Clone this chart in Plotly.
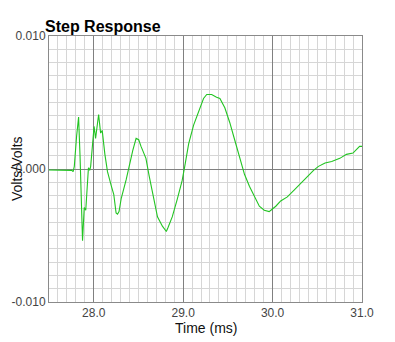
import plotly.graph_objects as go

# Step response trace: time in ms, amplitude in volts/volts
time_ms = [
    27.500, 27.665, 27.754, 27.770, 27.783, 27.809, 27.831, 27.847, 27.864, 27.875,
    27.894, 27.911, 27.941, 27.955, 27.966, 28.004, 28.021, 28.055, 28.077, 28.095,
    28.125, 28.154, 28.198, 28.224, 28.250, 28.266, 28.283, 28.308, 28.363, 28.401,
    28.437, 28.474, 28.503, 28.529, 28.584, 28.621, 28.658, 28.713, 28.768, 28.812,
    28.831, 28.878, 28.933, 28.988, 29.018, 29.062, 29.117, 29.173, 29.228, 29.264,
    29.319, 29.374, 29.411, 29.466, 29.521, 29.576, 29.631, 29.686, 29.741, 29.797,
    29.852, 29.907, 29.962, 29.981, 30.036, 30.091, 30.165, 30.238, 30.311, 30.385,
    30.458, 30.513, 30.587, 30.661, 30.752, 30.826, 30.899, 30.973, 31.000,
]
response = [
    -0.00008, -0.00008, -0.0001, -0.0002, 0.0002, 0.0025, 0.0039, 0.0010, -0.0035, -0.0054,
    -0.0029, -0.0031, 0.0001, -0.0001, 0.0002, 0.0032, 0.0023, 0.0041, 0.0027, 0.0029,
    0.0011, -0.0002, -0.0013, -0.0019, -0.0033, -0.0034, -0.0032, -0.0022, -0.0008, 0.00045,
    0.0014, 0.0023, 0.0022, 0.0017, 0.0008, -0.00055, -0.0018, -0.0036, -0.0043, -0.0047,
    -0.0044, -0.0036, -0.0023, -0.0009, 0.0002, 0.0019, 0.0033, 0.0043, 0.0053, 0.0056,
    0.0056, 0.0054, 0.0053, 0.0046, 0.0035, 0.0022, 0.0008, -0.0004, -0.0013, -0.0021,
    -0.0028, -0.0031, -0.0032, -0.0031, -0.0028, -0.0024, -0.0021, -0.0016, -0.0011, -0.00055,
    -0.0001, 0.0002, 0.00045, 0.00057, 0.0008, 0.0011, 0.0012, 0.0017, 0.0017,
]

x_ticks = [28.0, 29.0, 30.0, 31.0]
x_tick_labels = ["28.0", "29.0", "30.0", "31.0"]
y_ticks = [-0.01, 0.0, 0.01]
y_tick_labels = ["-0.010", "0.000", "0.010"]

FONT = "Liberation Sans, Arial, Helvetica, sans-serif"

fig = go.Figure()
fig.add_trace(go.Scatter(
    x=time_ms, y=response, mode="lines",
    line=dict(color="#22c422", width=1.1),
    hoverinfo="skip", showlegend=False,
))

fig.update_layout(
    width=395, height=342,
    margin=dict(l=45, r=33, t=36, b=40),
    paper_bgcolor="white", plot_bgcolor="white",
    font=dict(family=FONT, color="#444444", size=12),
    title=dict(
        text="<b>Step Response</b>",
        font=dict(family=FONT, size=16, color="black"),
        x=45 / 395, xanchor="left", xref="container",
        y=1 - 26 / 342, yanchor="middle", yref="container",
    ),
    xaxis=dict(
        range=[27.5, 31.0],
        tickmode="array", tickvals=x_ticks, ticktext=x_tick_labels,
        showgrid=True, gridcolor="#808080", gridwidth=1,
        zeroline=False,
        showline=True, linecolor="#8a8a8a", linewidth=1, mirror=True,
        ticks="", ticklen=0,
        tickfont=dict(size=12, color="#444444"),
        minor=dict(dtick=0.1, tick0=27.5, showgrid=True,
                   gridcolor="#d6d6d6", gridwidth=1),
    ),
    yaxis=dict(
        range=[-0.01, 0.01],
        tickmode="array", tickvals=y_ticks, ticktext=y_tick_labels,
        showgrid=True, gridcolor="#808080", gridwidth=1,
        zeroline=False,
        showline=True, linecolor="#8a8a8a", linewidth=1, mirror=True,
        ticks="", ticklen=0,
        tickfont=dict(size=12, color="#444444"),
        minor=dict(dtick=0.001, tick0=0, showgrid=True,
                   gridcolor="#d6d6d6", gridwidth=1),
    ),
    annotations=[
        dict(text="Time (ms)", xref="paper", yref="paper", x=0.5, y=0,
             yshift=-26, xanchor="center", yanchor="middle", showarrow=False,
             font=dict(family=FONT, size=14, color="#111111")),
        dict(text="Volts/Volts", xref="paper", yref="paper", x=0, y=0.5,
             xshift=-32, xanchor="center", yanchor="middle", showarrow=False,
             textangle=-90,
             font=dict(family=FONT, size=14, color="#111111")),
    ],
)

fig.write_html("out.html")
